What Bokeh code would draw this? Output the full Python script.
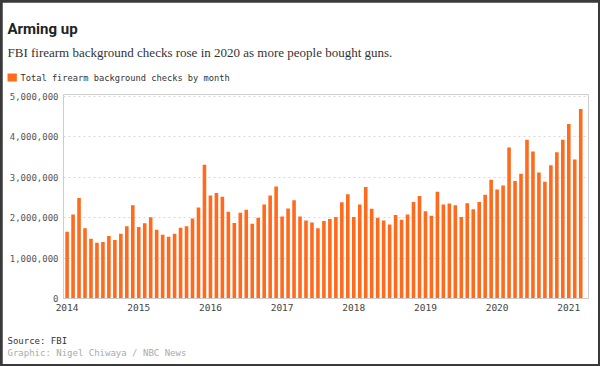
from bokeh.plotting import figure
from bokeh.layouts import column
from bokeh.models import FixedTicker, NumeralTickFormatter, ColumnDataSource, Range1d, Title
from bokeh.embed import file_html
from bokeh.resources import INLINE

# ---- data (monthly totals, Jan 2014 .. Mar 2021) ----
year_labels = ["2014", "2015", "2016", "2017", "2018", "2019", "2020", "2021"]
checks_2014 = [1.65, 2.08, 2.49, 1.74, 1.48, 1.38, 1.40, 1.55, 1.45, 1.60, 1.79, 2.31]
checks_2015 = [1.77, 1.86, 2.01, 1.70, 1.58, 1.53, 1.60, 1.75, 1.79, 1.98, 2.25, 3.31]
checks_2016 = [2.55, 2.61, 2.52, 2.15, 1.87, 2.12, 2.20, 1.85, 2.00, 2.33, 2.55, 2.77]
checks_2017 = [2.03, 2.23, 2.43, 2.03, 1.93, 1.88, 1.74, 1.92, 1.97, 2.02, 2.38, 2.58]
checks_2018 = [2.02, 2.33, 2.76, 2.22, 2.00, 1.93, 1.83, 2.07, 1.95, 2.08, 2.39, 2.54]
checks_2019 = [2.16, 2.05, 2.64, 2.33, 2.35, 2.31, 2.02, 2.36, 2.21, 2.39, 2.57, 2.94]
checks_2020 = [2.70, 2.80, 3.74, 2.91, 3.09, 3.93, 3.64, 3.12, 2.89, 3.30, 3.62, 3.93]
checks_2021 = [4.32, 3.44, 4.69]
y_ticks = [0, 1000000, 2000000, 3000000, 4000000, 5000000]

title_text = "Arming up"
subtitle_text = "FBI firearm background checks rose in 2020 as more people bought guns."
legend_text = "Total firearm background checks by month"
source_text = "Source: FBI"
credit_text = "Graphic: Nigel Chiwaya / NBC News"

millions = (checks_2014 + checks_2015 + checks_2016 + checks_2017 +
            checks_2018 + checks_2019 + checks_2020 + checks_2021)
checks = [round(v * 1_000_000) for v in millions]
month_idx = list(range(len(checks)))
year_ticks = [12 * i for i in range(len(year_labels))]

ORANGE = "#ff6a1c"
MONO = "DejaVu Sans Mono"
FRAME = "#3a3a3a"

p = figure(width=596, height=362, output_backend="svg", toolbar_location=None,
           x_range=Range1d(-0.6, 87.3), y_range=Range1d(0, 5_050_000),
           min_border_left=61, min_border_right=10, min_border_top=92, min_border_bottom=66,
           margin=(2, 2, 2, 2))
p.outline_line_color = None
p.background_fill_color = "white"
p.border_fill_color = "white"

src = ColumnDataSource(dict(x=month_idx, y=checks))
p.vbar(x="x", top="y", width=0.6, bottom=0, source=src, fill_color=ORANGE, line_color=None)

p.xaxis.ticker = FixedTicker(ticks=year_ticks)
p.xaxis.major_label_overrides = {t: lab for t, lab in zip(year_ticks, year_labels)}
p.xaxis.axis_line_color = "#cccccc"
p.xaxis.major_tick_line_color = None
p.xaxis.minor_tick_line_color = None
p.xaxis.major_tick_out = 0
p.xaxis.major_label_standoff = 5
p.xaxis.major_label_text_font = MONO
p.xaxis.major_label_text_font_size = "9.5px"
p.xaxis.major_label_text_color = "#444444"

p.yaxis.ticker = FixedTicker(ticks=y_ticks)
p.yaxis.formatter = NumeralTickFormatter(format="0,0")
p.yaxis.axis_line_color = None
p.yaxis.major_tick_line_color = None
p.yaxis.minor_tick_line_color = None
p.yaxis.major_tick_out = 0
p.yaxis.major_label_standoff = 5
p.yaxis.major_label_text_font = MONO
p.yaxis.major_label_text_font_size = "9px"
p.yaxis.major_label_text_color = "#555555"

p.xgrid.grid_line_color = None
p.ygrid.grid_line_color = "#d8d8d8"
p.ygrid.grid_line_dash = "2 3"
p.ygrid.grid_line_width = 1

TEXT_X = -56    # page text column (7px) relative to the plot frame's left edge (63px)
KEY_X = -43     # legend label start (20px)


def spacer(px):
    return Title(text=" ", text_font_size="1px", standoff=px)


def line(text, font, size, color, style="normal", offset=TEXT_X, standoff=0, valign="bottom", **kw):
    return Title(text=text, align="left", offset=offset, standoff=standoff, vertical_align=valign,
                 text_font=font, text_font_size=size, text_font_style=style, text_color=color, **kw)


# header rows: added from the frame outward (the last one added is the top row)
p.add_layout(spacer(14), "above")
p.add_layout(line("\u00a0\u00a0", "Liberation Mono", "7.8px", ORANGE, standoff=-10, valign="middle",
                  background_fill_color=ORANGE), "above")
p.add_layout(line(legend_text, MONO, "8.7px", "#333333", offset=KEY_X, standoff=-12,
                  valign="middle"), "above")
p.add_layout(spacer(15), "above")
p.add_layout(line(subtitle_text, "Liberation Serif", "13px", "#333333"), "above")
p.add_layout(spacer(2), "above")
p.add_layout(line(title_text, "Roboto", "15px", "#222222", style="bold"), "above")

# footer rows: added from the x axis outward
p.add_layout(spacer(17), "below")
p.add_layout(line(source_text, MONO, "9px", "#333333"), "below")
p.add_layout(line(credit_text, MONO, "9px", "#aaaaaa"), "below")

page = column(p, spacing=0, styles={"background-color": FRAME})
open("out.html", "w").write(file_html(page, INLINE))
